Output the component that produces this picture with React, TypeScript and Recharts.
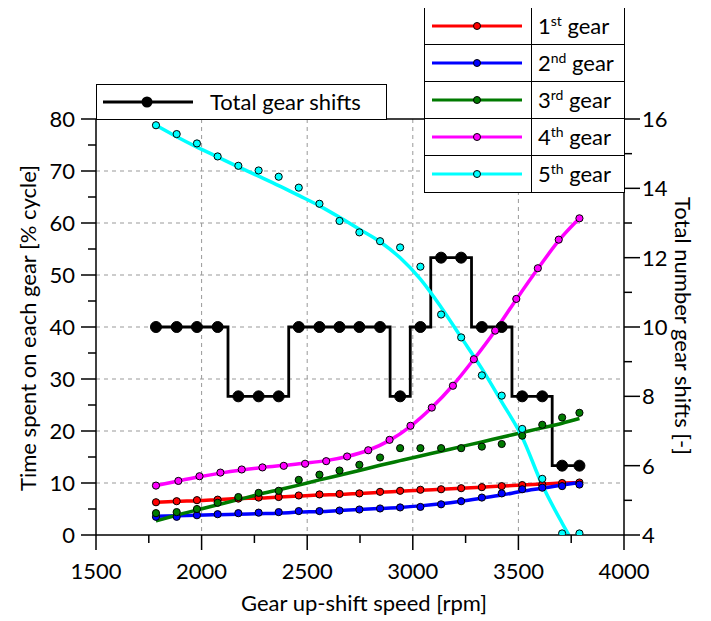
import React from "react";
import {
  ComposedChart,
  Line,
  XAxis,
  YAxis,
  CartesianGrid,
  ReferenceLine,
} from "recharts";

// x positions (rpm) of the 22-point series
const rpm22 = [
  1784, 1882, 1978, 2076, 2174, 2270, 2365, 2460, 2558, 2653, 2747, 2845,
  2940, 3036, 3134, 3229, 3327, 3421, 3518, 3613, 3707, 3789,
];
// x positions (rpm) of the 4th gear series
const rpm21 = [
  1784, 1890, 1990, 2089, 2190, 2288, 2389, 2490, 2590, 2689, 2789, 2890,
  2989, 3090, 3190, 3289, 3390, 3490, 3592, 3691, 3789,
];

const totalShifts = [10, 10, 10, 10, 8, 8, 8, 10, 10, 10, 10, 10, 8, 10, 12, 12, 10, 10, 8, 8, 6, 6];

const gear1 = [6.3, 6.5, 6.7, 6.8, 7.0, 7.2, 7.3, 7.6, 7.8, 7.9, 8.0, 8.3, 8.5, 8.7, 8.8, 9.0, 9.2, 9.4, 9.6, 9.7, 10.0, 10.1];
const gear1Fit = [6.3, 6.5, 6.6, 6.8, 7.0, 7.1, 7.3, 7.5, 7.7, 7.8, 8.0, 8.2, 8.4, 8.6, 8.8, 9.0, 9.2, 9.4, 9.6, 9.8, 10.0, 10.1];
const gear2 = [3.5, 3.5, 3.8, 4.0, 4.2, 4.3, 4.4, 4.6, 4.6, 4.7, 4.9, 5.1, 5.3, 5.4, 5.9, 6.5, 7.2, 8.0, 8.8, 9.1, 9.4, 9.7];
const gear2Fit = [3.6, 3.7, 3.8, 3.9, 4.0, 4.1, 4.2, 4.4, 4.5, 4.7, 4.9, 5.1, 5.3, 5.6, 6.0, 6.5, 7.1, 7.7, 8.4, 9.0, 9.6, 10.1];
const gear3 = [4.2, 4.4, 5.0, 6.2, 7.3, 8.1, 8.5, 10.6, 11.6, 12.4, 13.5, 14.9, 16.7, 16.7, 16.7, 16.7, 17.0, 17.5, 19.1, 21.2, 22.6, 23.5];
const gear3Fit = [2.7, 3.8, 4.8, 5.8, 6.8, 7.8, 8.7, 9.6, 10.6, 11.5, 12.4, 13.4, 14.3, 15.2, 16.1, 17.0, 17.9, 18.8, 19.7, 20.6, 21.5, 22.4];
const gear4 = [9.5, 10.4, 11.3, 12.0, 12.6, 13.0, 13.3, 13.7, 14.2, 15.1, 16.3, 18.3, 21.0, 24.5, 28.7, 33.8, 39.3, 45.4, 51.3, 56.8, 60.9];
const gear4Fit = [9.5, 10.4, 11.2, 11.9, 12.5, 13.0, 13.4, 13.8, 14.3, 15.1, 16.3, 18.2, 20.9, 24.5, 28.8, 33.8, 39.3, 45.3, 51.2, 56.6, 60.9];
const gear5 = [78.8, 77.1, 75.3, 72.8, 71.0, 70.1, 68.9, 66.8, 63.7, 60.4, 58.2, 56.5, 55.3, 51.6, 42.4, 38.0, 30.7, 26.8, 20.4, 10.8, 0.3, 0.3];
const gear5FitRpm = [
  1784, 1882, 1978, 2076, 2174, 2270, 2365, 2460, 2558, 2653, 2747, 2845,
  2940, 3036, 3134, 3229, 3327, 3421, 3518, 3613, 3707, 3739,
];
const gear5Fit = [78.8, 76.6, 74.6, 72.7, 70.8, 69.0, 67.2, 65.3, 63.3, 61.1, 58.8, 56.4, 53.3, 49.2, 43.8, 38.0, 32.0, 25.6, 18.8, 9.6, 2.3, 0];

const xTicks = [1500, 1750, 2000, 2250, 2500, 2750, 3000, 3250, 3500, 3750, 4000];
const leftTicks = [0, 5, 10, 15, 20, 25, 30, 35, 40, 45, 50, 55, 60, 65, 70, 75, 80];
const rightTicks = [4, 5, 6, 7, 8, 9, 10, 11, 12, 13, 14, 15, 16];

const gearLegend = [
  { n: "1", sup: "st", color: "#ff0000" },
  { n: "2", sup: "nd", color: "#0000ff" },
  { n: "3", sup: "rd", color: "#007a00" },
  { n: "4", sup: "th", color: "#ff00ff" },
  { n: "5", sup: "th", color: "#00ffff" },
];

const zip = (xs: number[], ys: number[]) => ys.map((y, i) => ({ x: xs[i], y }));

const FONT = "Lato, sans-serif";

const LeftTick = (props: any) => {
  const { x, y, payload } = props;
  const major = payload.value % 10 === 0;
  return (
    <g>
      <line x1={x - (major ? 15 : 8)} x2={x} y1={y} y2={y} stroke="#000" strokeWidth={1.5} />
      {major && (
        <text x={x - 21} y={y} dy="0.36em" textAnchor="end" fontSize={22} fontFamily={FONT} fill="#000">
          {payload.value}
        </text>
      )}
    </g>
  );
};

const RightTick = (props: any) => {
  const { x, y, payload } = props;
  const major = payload.value % 2 === 0;
  return (
    <g>
      <line x1={x} x2={x + (major ? 16 : 8)} y1={y} y2={y} stroke="#000" strokeWidth={1.5} />
      {major && (
        <text x={x + 18} y={y} dy="0.36em" textAnchor="start" fontSize={22} fontFamily={FONT} fill="#000">
          {payload.value}
        </text>
      )}
    </g>
  );
};

const BottomTick = (props: any) => {
  const { x, y, payload } = props;
  const major = payload.value % 500 === 0;
  return (
    <g>
      <line x1={x} x2={x} y1={y} y2={y + (major ? 15 : 8)} stroke="#000" strokeWidth={1.5} />
      {major && (
        <text x={x} y={y + 36} dy="0.36em" textAnchor="middle" fontSize={22} fontFamily={FONT} fill="#000">
          {payload.value}
        </text>
      )}
    </g>
  );
};

const fitLine = (data: { x: number; y: number }[], color: string, key: string) => (
  <Line
    key={key}
    data={data}
    dataKey="y"
    type="monotone"
    stroke={color}
    strokeWidth={3.5}
    dot={false}
    isAnimationActive={false}
  />
);

const pointLine = (data: { x: number; y: number }[], color: string, key: string) => (
  <Line
    key={key}
    data={data}
    dataKey="y"
    stroke="none"
    dot={{ r: 3.6, fill: color, stroke: "#000", strokeWidth: 1 }}
    activeDot={false}
    isAnimationActive={false}
  />
);

export default function App() {
  return (
    <div style={{ position: "relative", width: 711, height: 621, margin: "-8px 0 0 -8px", fontFamily: FONT }}>
      <ComposedChart width={711} height={621} margin={{ top: 119, right: 0, bottom: 0, left: 0 }}>
        <CartesianGrid
          stroke="#999"
          strokeDasharray="4 4"
          horizontalValues={[10, 20, 30, 40, 50, 60, 70]}
          verticalValues={[2000, 2500, 3000, 3500]}
        />
        <XAxis
          type="number"
          dataKey="x"
          domain={[1500, 4000]}
          ticks={xTicks}
          interval={0}
          height={86}
          tickSize={0}
          tickMargin={0}
          tickLine={false}
          tick={<BottomTick />}
          axisLine={{ stroke: "#000", strokeWidth: 1.5 }}
          allowDataOverflow
        />
        <YAxis
          type="number"
          domain={[0, 80]}
          ticks={leftTicks}
          interval={0}
          width={96}
          tickSize={0}
          tickMargin={0}
          tickLine={false}
          tick={<LeftTick />}
          axisLine={{ stroke: "#000", strokeWidth: 1.5 }}
          allowDataOverflow
        />
        <YAxis
          yAxisId="right"
          orientation="right"
          type="number"
          domain={[4, 16]}
          ticks={rightTicks}
          interval={0}
          width={87}
          tickSize={0}
          tickMargin={0}
          tickLine={false}
          tick={<RightTick />}
          axisLine={{ stroke: "#000", strokeWidth: 1.5 }}
          allowDataOverflow
        />
        <ReferenceLine y={80} stroke="#000" strokeWidth={1.5} />
        <Line
          yAxisId="right"
          data={zip(rpm22, totalShifts)}
          dataKey="y"
          type="step"
          stroke="#000"
          strokeWidth={2.8}
          dot={{ r: 5.5, fill: "#000", stroke: "#000", strokeWidth: 1 }}
          activeDot={false}
          isAnimationActive={false}
        />
        {fitLine(zip(rpm22, gear1Fit), "#ff0000", "f1")}
        {fitLine(zip(rpm22, gear2Fit), "#0000ff", "f2")}
        {fitLine(zip(rpm22, gear3Fit), "#007a00", "f3")}
        {fitLine(zip(rpm21, gear4Fit), "#ff00ff", "f4")}
        {fitLine(zip(gear5FitRpm, gear5Fit), "#00ffff", "f5")}
        {pointLine(zip(rpm22, gear1), "#ff0000", "p1")}
        {pointLine(zip(rpm22, gear2), "#0000ff", "p2")}
        {pointLine(zip(rpm22, gear3), "#007a00", "p3")}
        {pointLine(zip(rpm21, gear4), "#ff00ff", "p4")}
        {pointLine(zip(rpm22, gear5), "#00ffff", "p5")}
      </ComposedChart>

      {/* total gear shifts legend */}
      <div
        style={{
          position: "absolute",
          left: 96,
          top: 84,
          width: 291,
          height: 36,
          boxSizing: "border-box",
          border: "1.5px solid #000",
          background: "#fff",
        }}
      >
        <svg width={100} height={34} style={{ position: "absolute", left: 0, top: 0 }}>
          <line x1={6} x2={96} y1={17} y2={17} stroke="#000" strokeWidth={3} />
          <circle cx={50} cy={17} r={5.5} fill="#000" />
        </svg>
        <span style={{ position: "absolute", left: 113, top: 4, fontSize: 22, lineHeight: "26px", whiteSpace: "nowrap" }}>
          Total gear shifts
        </span>
      </div>

      {/* gear legend */}
      <div
        style={{
          position: "absolute",
          left: 424,
          top: 7,
          width: 201,
          boxSizing: "border-box",
          border: "1.5px solid #000",
          borderBottom: "none",
          background: "#fff",
        }}
      >
        {gearLegend.map((g) => (
          <div key={g.n} style={{ display: "flex", height: 37, borderBottom: "1.5px solid #000", boxSizing: "border-box" }}>
            <div style={{ width: 106, borderRight: "1.5px solid #000", position: "relative" }}>
              <svg width={106} height={36} style={{ position: "absolute", left: 0, top: 0 }}>
                <line x1={7} x2={97} y1={18} y2={18} stroke={g.color} strokeWidth={3} />
                <circle cx={52} cy={18} r={3.5} fill={g.color} stroke="#000" strokeWidth={1} />
              </svg>
            </div>
            <div style={{ paddingLeft: 6, fontSize: 22, lineHeight: "36px", whiteSpace: "nowrap" }}>
              {g.n}
              <sup style={{ fontSize: 14, lineHeight: 0 }}>{g.sup}</sup> gear
            </div>
          </div>
        ))}
      </div>

      {/* axis titles */}
      <div style={{ position: "absolute", left: 364, top: 603, transform: "translate(-50%, -50%)", fontSize: 22, lineHeight: "26px", whiteSpace: "nowrap" }}>
        Gear up-shift speed [rpm]
      </div>
      <div
        style={{
          position: "absolute",
          left: 28,
          top: 328,
          transform: "translate(-50%, -50%) rotate(-90deg)",
          fontSize: 22,
          lineHeight: "26px",
          whiteSpace: "nowrap",
        }}
      >
        Time spent on each gear [% cycle]
      </div>
      <div
        style={{
          position: "absolute",
          left: 683,
          top: 326,
          transform: "translate(-50%, -50%) rotate(90deg)",
          fontSize: 22,
          lineHeight: "26px",
          whiteSpace: "nowrap",
        }}
      >
        Total number gear shifts [-]
      </div>
    </div>
  );
}
